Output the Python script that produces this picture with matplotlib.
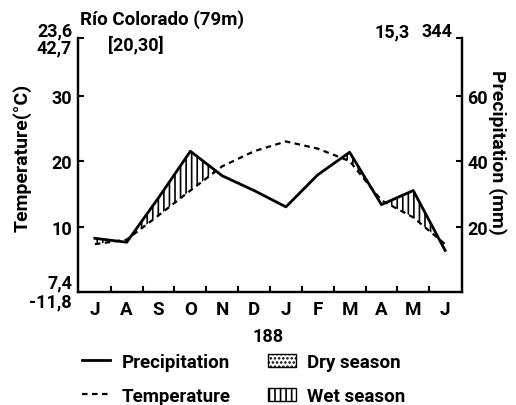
import matplotlib
matplotlib.use("Agg")
import matplotlib.pyplot as plt
from matplotlib.lines import Line2D
from matplotlib.patches import Patch
import numpy as np

months = ["J", "A", "S", "O", "N", "D", "J", "F", "M", "A", "M", "J"]
temperature = [7.3, 8.0, 11.7, 15.5, 19.2, 21.5, 23.0, 21.9, 20.0, 14.0, 11.4, 7.3]
precipitation = [16.4, 15.2, 28.8, 43.0, 35.5, 31.0, 26.0, 35.8, 42.7, 26.7, 31.0, 12.7]
temp_ticks = [10, 20, 30]
prec_ticks = [20, 40, 60]

plt.rcParams['font.family'] = ['Roboto', 'DejaVu Sans']
plt.rcParams['font.weight'] = 'bold'
plt.rcParams['hatch.linewidth'] = 1.2

fig = plt.figure(figsize=(5.16, 4.06), dpi=100)
ax = fig.add_axes([78/516, 1-293/406, (462-78)/516, (293-39)/406])
ax2 = ax.twinx()

x = np.arange(len(months))
tmax = 38.8
ax.set_xlim(-0.53, 11.53)
ax.set_ylim(0, tmax)
ax2.set_ylim(0, 2*tmax)

t = np.array(temperature)
p = np.array(precipitation)

ax.plot(x, t, color='black', lw=1.6, ls=(0, (2.5, 2)))
ax2.plot(x, p, color='black', lw=2.0)
ax.fill_between(x, t, p/2, where=(p/2 > t), interpolate=True,
                facecolor='white', edgecolor='black', hatch='|||', lw=0)

for a in (ax, ax2):
    a.spines['top'].set_visible(False)
    for s in a.spines.values():
        s.set_linewidth(1.6)

ax.set_yticks(temp_ticks + [tmax])
ax.set_yticklabels([str(v) for v in temp_ticks] + [''])
ax2.set_yticks(prec_ticks + [2*tmax])
ax2.set_yticklabels([str(v) for v in prec_ticks] + [''])
ax.tick_params(axis='y', direction='in', length=4, width=1.5, labelsize=13, pad=4)
ax2.tick_params(axis='y', direction='in', length=4, width=1.5, labelsize=13, pad=4)

ax.set_xticks(np.arange(0.5, 11, 1))
ax.set_xticklabels([])
ax.set_xticks(x, minor=True)
ax.set_xticklabels(months, minor=True, fontsize=13.5)
ax.tick_params(axis='x', which='major', direction='in', length=4, width=1.5)
ax.tick_params(axis='x', which='minor', length=0, pad=6)

fig.text(22/516, 1-158/406, "Temperature(°C)", rotation=90, ha='center', va='center', fontsize=14)
fig.text(497/516, 1-152/406, "Precipitation (mm)", rotation=270, ha='center', va='center', fontsize=14)

fig.text(80/516, 1-20/406, "Río Colorado (79m)", ha='left', va='center', fontsize=13.5)
fig.text(108/516, 1-45/406, "[20,30]", ha='left', va='center', fontsize=13)
fig.text(72/516, 1-31/406, "23,6", ha='right', va='center', fontsize=13)
fig.text(72/516, 1-48/406, "42,7", ha='right', va='center', fontsize=13)
fig.text(410/516, 1-32/406, "15,3", ha='right', va='center', fontsize=13)
fig.text(452/516, 1-32/406, "344", ha='right', va='center', fontsize=13)
fig.text(72/516, 1-283/406, "7,4", ha='right', va='center', fontsize=13)
fig.text(72/516, 1-302/406, "-11,8", ha='right', va='center', fontsize=13)
fig.text(268/516, 1-337/406, "188", ha='center', va='center', fontsize=13)

handles = [Line2D([], [], color='black', lw=2.0),
           Line2D([], [], color='black', lw=1.6, ls=(0, (2.5, 2))),
           Patch(facecolor='white', edgecolor='black', hatch='....'),
           Patch(facecolor='white', edgecolor='black', hatch='|||')]
labels = ["Precipitation", "Temperature", "Dry season", "Wet season"]
fig.legend(handles, labels, ncol=2, frameon=False, fontsize=13.5,
           loc='upper left', bbox_to_anchor=(82/516, 1-354/406),
           handlelength=1.5, handletextpad=0.6, columnspacing=2.0,
           labelspacing=0.85, borderpad=0, borderaxespad=0)

fig.savefig("out.png", dpi=100)
